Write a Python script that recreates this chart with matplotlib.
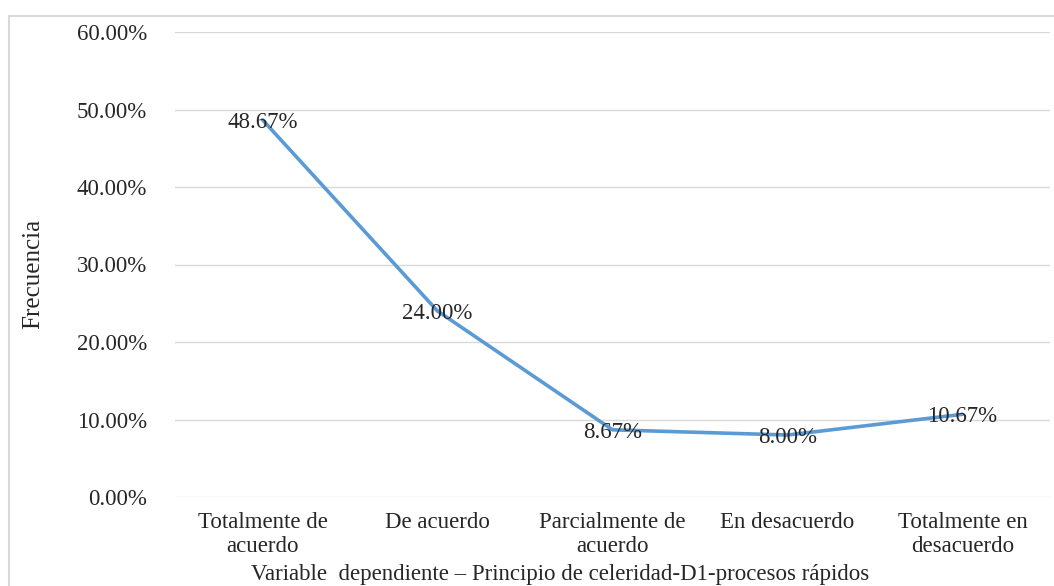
import matplotlib.pyplot as plt
from matplotlib.patches import Rectangle
from matplotlib.ticker import FuncFormatter

# Datos
categorias = ['Totalmente de\nacuerdo', 'De acuerdo', 'Parcialmente de\nacuerdo',
              'En desacuerdo', 'Totalmente en\ndesacuerdo']
frecuencia = [0.4867, 0.24, 0.0867, 0.08, 0.1067]
etiquetas = ['48.67%', '24.00%', '8.67%', '8.00%', '10.67%']

plt.rcParams['font.family'] = ['Liberation Serif', 'DejaVu Serif']
texto = '#262626'
fs = 16.5

fig = plt.figure(figsize=(10.54, 5.86), dpi=100)
fig.patches.append(Rectangle((9 / 1054, -0.1), 1.2, 1 - 16 / 586 + 0.1,
                             transform=fig.transFigure, fill=False,
                             edgecolor='#d9d9d9', linewidth=1.5))

ax = fig.add_axes([175 / 1054, 1 - 497 / 586, 875 / 1054, 465 / 586])
x = range(len(categorias))
ax.plot(x, frecuencia, color='#5b9bd5', linewidth=2.6, solid_capstyle='round', zorder=3)

for i, (v, t) in enumerate(zip(frecuencia, etiquetas)):
    ax.text(i, v - 0.003, t, ha='center', va='center', fontsize=fs, color=texto, zorder=4)

ax.set_xlim(-0.5, 4.5)
ax.set_ylim(0, 0.6)
ax.set_yticks([0, 0.1, 0.2, 0.3, 0.4, 0.5, 0.6])
ax.yaxis.set_major_formatter(FuncFormatter(lambda v, p: f'{v * 100:.2f}%'))
ax.set_xticks(list(x))
ax.set_xticklabels(categorias, fontsize=fs, color=texto, linespacing=1.2)
for lab in ax.get_yticklabels():
    lab.set_fontsize(fs)
    lab.set_color(texto)
ax.tick_params(axis='both', length=0)
ax.tick_params(axis='y', pad=20)
ax.tick_params(axis='x', pad=11)
ax.grid(axis='y', color='#d9d9d9', linewidth=1)
ax.set_axisbelow(True)
for s in ax.spines.values():
    s.set_visible(False)

fig.text(33 / 1054, 1 - 274 / 586, 'Frecuencia', rotation=90, ha='center', va='center',
         fontsize=18, color=texto)
fig.text(560 / 1054, 1 / 586, 'Variable  dependiente – Principio de celeridad-D1-procesos rápidos',
         ha='center', va='bottom', fontsize=fs, color=texto)

plt.savefig('out.png', dpi=100)
